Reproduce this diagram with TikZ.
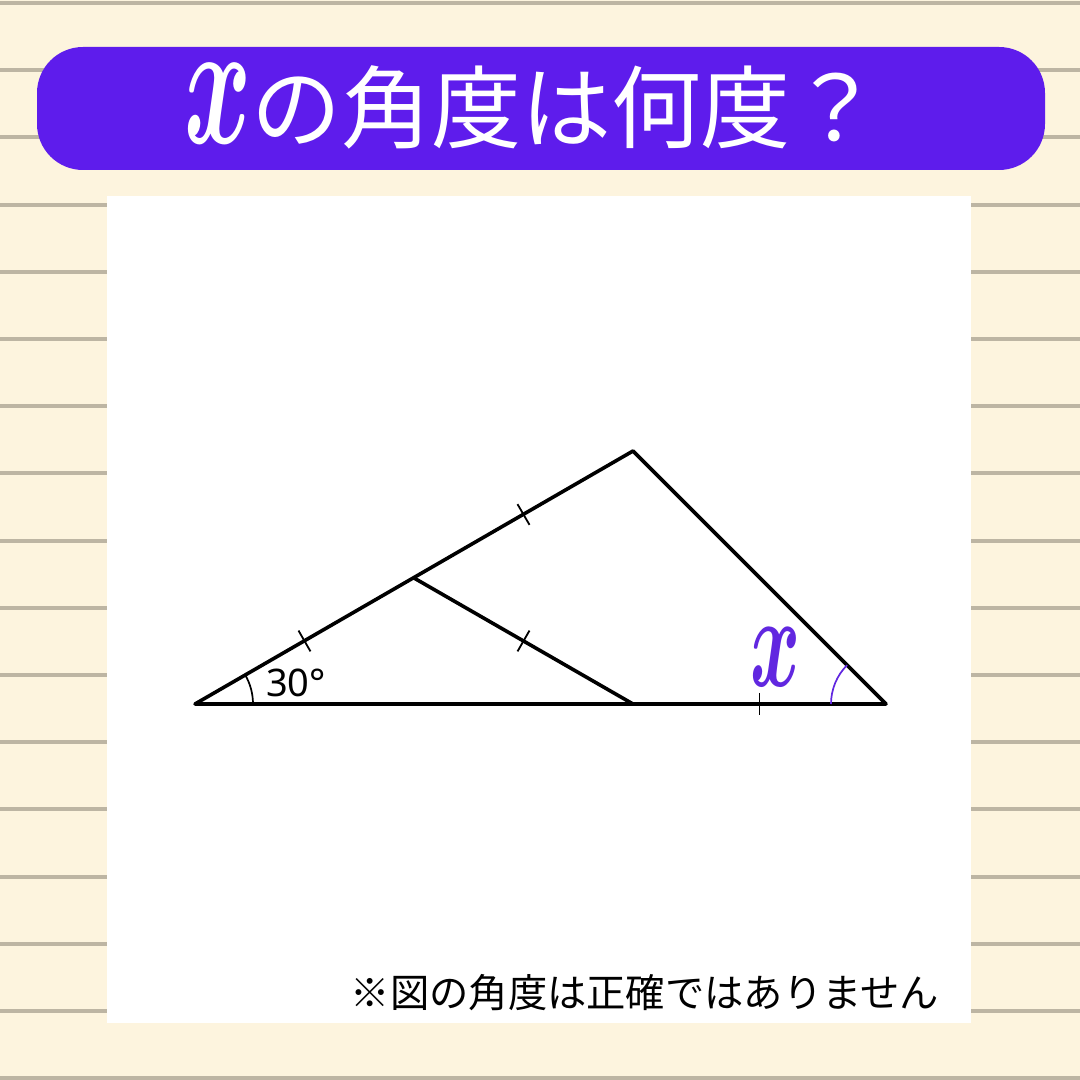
\documentclass[tikz,border=0pt]{standalone}
\usepackage{fontspec}
\newfontfamily\cjk{Noto Sans CJK JP}
\newfontfamily\notosans{Noto Sans}
\usetikzlibrary{calc}
\definecolor{bgc}{HTML}{FDF4DE}
\definecolor{rulec}{HTML}{BDB5A3}
\definecolor{barc}{HTML}{5E1CEC}
\definecolor{xc}{HTML}{6127E0}
\tikzset{
  edge/.style={line width=3.6pt, line join=round, line cap=round},
  tickline/.style={line width=1.8pt},
  anglearc/.style={line width=1.7pt},
}
\begin{document}
\begin{tikzpicture}[x=1pt,y=1pt]
\fill[bgc] (0,0) rectangle (1080,1080);
\useasboundingbox (0,0) rectangle (1080,1080);
\foreach \k in {0,...,16} {
  \fill[rulec] (0,{1080-3-67.2*\k-2}) rectangle (1080,{1080-3-67.2*\k+2});
}
\fill[white] (107,57) rectangle (971,884);
\fill[barc, rounded corners=46pt] (37,910) rectangle (1045,1033);
\node[white, inner sep=0] (tx) at (218,976) {\scalebox{10.2}[17.9]{\boldmath$x$}};
\node[white, inner sep=0, font=\cjk\fontsize{90}{90}\selectfont] (title) at (566,973) {の角度は何度？};

\coordinate (A) at (195,376);
\coordinate (B) at (633,629);
\coordinate (C) at (886,376);
\coordinate (D) at (414,502);
\coordinate (E) at (633,376);

\draw[edge] (A) -- (C) -- (B) -- cycle;
\draw[edge] (D) -- (E);

\coordinate (M1) at ($(A)!0.5!(D)$);
\coordinate (M2) at ($(D)!0.5!(B)$);
\coordinate (M3) at ($(D)!0.5!(E)$);
\coordinate (M4) at ($(E)!0.5!(C)$);
\draw[tickline] ($(M1)!12pt!90:(D)$) -- ($(M1)!12pt!-90:(D)$);
\draw[tickline] ($(M2)!12pt!90:(B)$) -- ($(M2)!12pt!-90:(B)$);
\draw[tickline] ($(M3)!12pt!90:(E)$) -- ($(M3)!12pt!-90:(E)$);
\draw[tickline] ($(M4)!11pt!90:(C)$) -- ($(M4)!11pt!-90:(C)$);

\draw[anglearc] ($(A)+(58,0)$) arc[start angle=0, end angle=30, radius=58];
\draw[anglearc, xc] ($(C)+(-55,0)$) arc[start angle=180, end angle=135, radius=55];

\node[inner sep=0, font=\notosans\fontsize{38}{38}\selectfont] (a30) at (296,397) {30°};
\node[xc, inner sep=0] (xl) at (776,423) {\scalebox{7.6}[13.2]{\boldmath$x$}};

\node[inner sep=0, font=\cjk\fontsize{39.3}{39.3}\selectfont] (note) at (645,87) {※図の角度は正確ではありません};
\end{tikzpicture}
\end{document}
